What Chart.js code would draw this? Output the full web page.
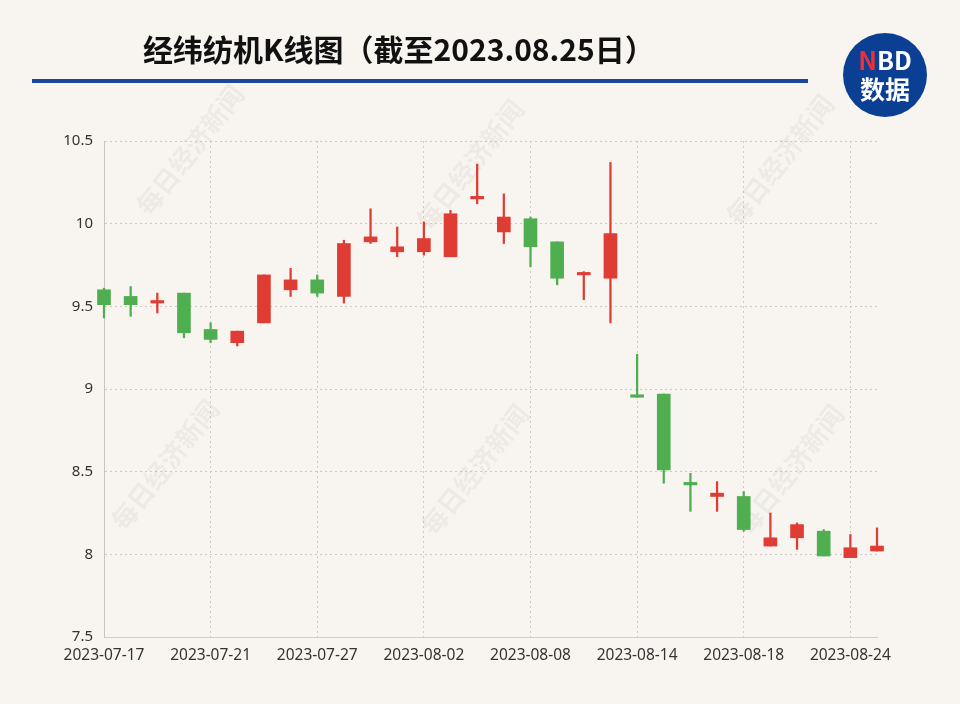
<!DOCTYPE html>
<html>
<head>
<meta charset="utf-8">
<script src="https://cdn.jsdelivr.net/npm/chart.js@4.4.0/dist/chart.umd.min.js"></script>
<style>
html, body { margin: 0; padding: 0; background: #f8f5f0; }
#wrap { position: relative; width: 960px; height: 704px; overflow: hidden; }
#kline { position: absolute; left: 0; top: 0; }
.title { position: absolute; left: 143px; top: 26px; font: bold 30px "Noto Sans CJK SC", sans-serif; color: #111; white-space: nowrap; }
.rule { position: absolute; left: 32px; top: 79px; width: 776px; height: 4px; background: #18479c; }
.logo { position: absolute; left: 843px; top: 33px; width: 84px; height: 84px; border-radius: 50%; background: #0b3f93;
  color: #fff; text-align: center; font: bold 25px "Noto Sans CJK SC", sans-serif; line-height: 29px; padding-top: 12px; box-sizing: border-box; }
.logo .n { color: #e8323a; }
</style>
</head>
<body>
<div id="wrap">
  <canvas id="kline" width="960" height="704"></canvas>
  <div class="title">经纬纺机K线图（截至2023.08.25日）</div>
  <div class="rule"></div>
  <div class="logo"><span class="n">N</span>BD<br>数据</div>
</div>
<script>
'use strict';

var dates = ['2023-07-17','2023-07-18','2023-07-19','2023-07-20','2023-07-21',
  '2023-07-24','2023-07-25','2023-07-26','2023-07-27','2023-07-28',
  '2023-07-31','2023-08-01','2023-08-02','2023-08-03','2023-08-04',
  '2023-08-07','2023-08-08','2023-08-09','2023-08-10','2023-08-11',
  '2023-08-14','2023-08-15','2023-08-16','2023-08-17','2023-08-18',
  '2023-08-21','2023-08-22','2023-08-23','2023-08-24','2023-08-25'];
var opens  = [9.60, 9.56, 9.52, 9.58, 9.36, 9.28, 9.40, 9.60, 9.66, 9.56,
              9.89, 9.83, 9.83, 9.80, 10.15, 9.95, 10.03, 9.89, 9.69, 9.67,
              8.96, 8.97, 8.43, 8.35, 8.35, 8.05, 8.10, 8.14, 7.98, 8.02];
var closes = [9.51, 9.51, 9.53, 9.34, 9.30, 9.35, 9.69, 9.66, 9.58, 9.88,
              9.92, 9.86, 9.91, 10.06, 10.16, 10.04, 9.86, 9.67, 9.70, 9.94,
              8.95, 8.51, 8.42, 8.37, 8.15, 8.10, 8.18, 7.99, 8.04, 8.05];
var highs  = [9.61, 9.62, 9.58, 9.58, 9.40, 9.35, 9.69, 9.73, 9.69, 9.90,
              10.09, 9.98, 10.01, 10.08, 10.36, 10.18, 10.04, 9.89, 9.71, 10.37,
              9.21, 8.97, 8.49, 8.44, 8.38, 8.25, 8.19, 8.15, 8.12, 8.16];
var lows   = [9.43, 9.44, 9.46, 9.31, 9.28, 9.26, 9.40, 9.56, 9.56, 9.52,
              9.88, 9.80, 9.81, 9.80, 10.12, 9.88, 9.74, 9.63, 9.54, 9.40,
              8.95, 8.43, 8.26, 8.26, 8.14, 8.05, 8.03, 7.99, 7.98, 8.02];
var yTicks = [7.5, 8, 8.5, 9, 9.5, 10, 10.5];
var labelEvery = 4;

var upColor = '#df3c34';
var downColor = '#4fae4f';
var gridColor = '#cfcbc6';

var candleColors = opens.map(function (o, i) { return closes[i] >= o ? upColor : downColor; });
var bodies = opens.map(function (o, i) { return [Math.min(o, closes[i]), Math.max(o, closes[i])]; });
var wicks = highs.map(function (h, i) { return [lows[i], h]; });

var watermark = {
  id: 'watermark',
  beforeDatasetsDraw: function (chart) {
    var c = chart.ctx;
    var spots = [[190, 150], [470, 165], [780, 160], [165, 465], [475, 470], [790, 470]];
    c.save();
    c.fillStyle = 'rgba(120,110,100,0.08)';
    c.font = 'bold 26px "Noto Sans CJK SC", serif';
    c.textAlign = 'center';
    c.textBaseline = 'middle';
    spots.forEach(function (p) {
      c.save();
      c.translate(p[0], p[1]);
      c.rotate(-52 * Math.PI / 180);
      c.fillText('每日经济新闻', 0, 0);
      c.restore();
    });
    c.restore();
  }
};

new Chart(document.getElementById('kline'), {
  type: 'bar',
  data: {
    labels: dates,
    datasets: [{
      label: 'wick',
      data: wicks,
      backgroundColor: candleColors,
      barThickness: 1.6,
      clip: false,
      order: 2
    }, {
      label: 'body',
      data: bodies,
      backgroundColor: candleColors,
      borderWidth: 0,
      borderSkipped: false,
      barThickness: 13,
      minBarLength: 2.5,
      clip: false,
      order: 1
    }]
  },
  options: {
    responsive: false,
    animation: false,
    events: [],
    layout: { padding: { top: 141, right: 83, bottom: 0, left: 0 } },
    plugins: { legend: { display: false }, tooltip: { enabled: false } },
    datasets: { bar: { grouped: false } },
    scales: {
      x: {
        offset: false,
        afterFit: function (scale) { scale.height = 67; },
        grid: {
          offset: false,
          drawTicks: false,
          lineWidth: 1,
          color: function (ctx) { return ctx.index % labelEvery === 0 ? gridColor : 'rgba(0,0,0,0)'; }
        },
        border: { color: '#d2cfcb', dash: [2, 3] },
        ticks: {
          autoSkip: false,
          maxRotation: 0,
          padding: 9,
          color: '#333',
          font: { family: '"Noto Sans", sans-serif', size: 15.5 },
          callback: function (v, i) { return i % labelEvery === 0 ? dates[i] : ''; }
        }
      },
      y: {
        min: yTicks[0],
        max: yTicks[yTicks.length - 1],
        afterFit: function (scale) { scale.width = 104; },
        afterBuildTicks: function (scale) { scale.ticks = yTicks.map(function (v) { return { value: v }; }); },
        grid: { color: gridColor, drawTicks: false, lineWidth: 1 },
        border: { color: '#c8c5c1', dash: [2, 3] },
        ticks: {
          padding: 11,
          color: '#333',
          font: { family: '"Noto Sans", sans-serif', size: 15 },
          callback: function (v) { return String(v); }
        }
      }
    }
  },
  plugins: [watermark]
});
</script>
</body>
</html>
